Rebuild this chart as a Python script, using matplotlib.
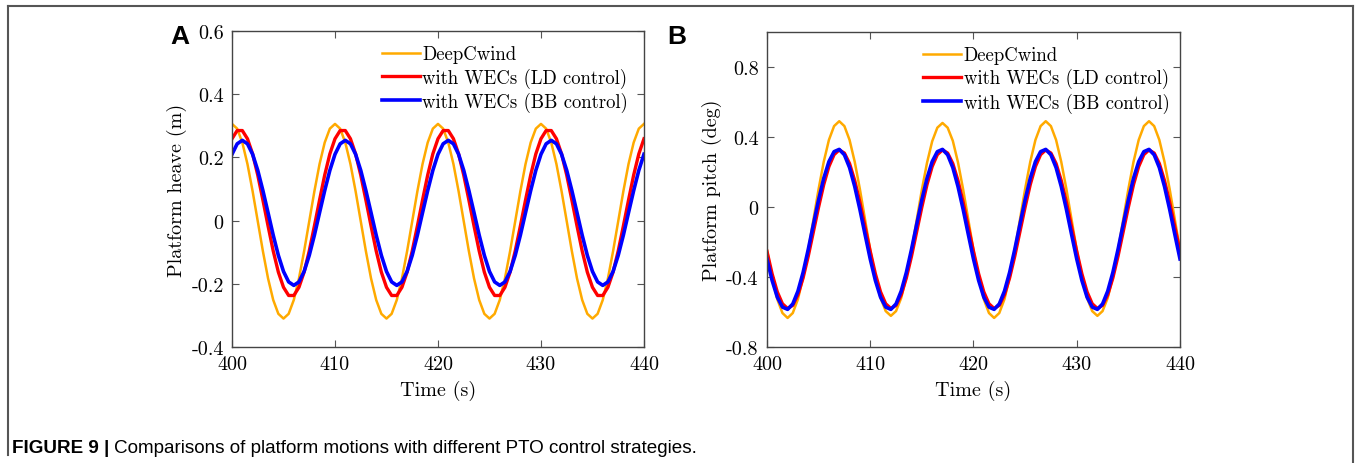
import numpy as np
import matplotlib
matplotlib.use("Agg")
import matplotlib.pyplot as plt
from matplotlib.lines import Line2D

# time grid (s), sampled every 0.5 s
time = np.arange(400, 440.5, 0.5)

# Platform heave (m)
heave_deepcwind = [
    0.306, 0.291, 0.247, 0.179, 0.093, -0.002, -0.097, -0.183, -0.251, -0.295,
    -0.310, -0.295, -0.251, -0.183, -0.097, -0.002, 0.093, 0.179, 0.247, 0.291,
    0.306, 0.291, 0.247, 0.179, 0.093, -0.002, -0.097, -0.183, -0.251, -0.295,
    -0.310, -0.295, -0.251, -0.183, -0.097, -0.002, 0.093, 0.179, 0.247, 0.291,
    0.306, 0.291, 0.247, 0.179, 0.093, -0.002, -0.097, -0.183, -0.251, -0.295,
    -0.310, -0.295, -0.251, -0.183, -0.097, -0.002, 0.093, 0.179, 0.247, 0.291,
    0.306, 0.291, 0.247, 0.179, 0.093, -0.002, -0.097, -0.183, -0.251, -0.295,
    -0.310, -0.295, -0.251, -0.183, -0.097, -0.002, 0.093, 0.179, 0.247, 0.291,
    0.306,
]
heave_ld = [
    0.259, 0.285, 0.285, 0.259, 0.211, 0.144, 0.065, -0.017, -0.096, -0.163,
    -0.211, -0.237, -0.237, -0.211, -0.163, -0.096, -0.017, 0.065, 0.144, 0.211,
    0.259, 0.285, 0.285, 0.259, 0.211, 0.144, 0.065, -0.017, -0.096, -0.163,
    -0.211, -0.237, -0.237, -0.211, -0.163, -0.096, -0.017, 0.065, 0.144, 0.211,
    0.259, 0.285, 0.285, 0.259, 0.211, 0.144, 0.065, -0.017, -0.096, -0.163,
    -0.211, -0.237, -0.237, -0.211, -0.163, -0.096, -0.017, 0.065, 0.144, 0.211,
    0.259, 0.285, 0.285, 0.259, 0.211, 0.144, 0.065, -0.017, -0.096, -0.163,
    -0.211, -0.237, -0.237, -0.211, -0.163, -0.096, -0.017, 0.065, 0.144, 0.211,
    0.259,
]
heave_bb = [
    0.210, 0.243, 0.254, 0.243, 0.210, 0.159, 0.095, 0.025, -0.046, -0.110,
    -0.161, -0.194, -0.205, -0.194, -0.161, -0.110, -0.046, 0.025, 0.095, 0.159,
    0.210, 0.243, 0.254, 0.243, 0.210, 0.159, 0.095, 0.025, -0.046, -0.110,
    -0.161, -0.194, -0.205, -0.194, -0.161, -0.110, -0.046, 0.025, 0.095, 0.159,
    0.210, 0.243, 0.254, 0.243, 0.210, 0.159, 0.095, 0.025, -0.046, -0.110,
    -0.161, -0.194, -0.205, -0.194, -0.161, -0.110, -0.046, 0.025, 0.095, 0.159,
    0.210, 0.243, 0.254, 0.243, 0.210, 0.159, 0.095, 0.025, -0.046, -0.110,
    -0.161, -0.194, -0.205, -0.194, -0.161, -0.110, -0.046, 0.025, 0.095, 0.159,
    0.210,
]

# Platform pitch (deg)
pitch_deepcwind = [
    -0.246, -0.402, -0.527, -0.606, -0.634, -0.606, -0.527, -0.402, -0.246, -0.072,
    0.102, 0.258, 0.383, 0.462, 0.490, 0.462, 0.383, 0.258, 0.102, -0.072,
    -0.246, -0.400, -0.520, -0.595, -0.622, -0.595, -0.520, -0.400, -0.246, -0.075,
    0.098, 0.252, 0.375, 0.453, 0.480, 0.453, 0.378, 0.255, 0.100, -0.072,
    -0.246, -0.402, -0.527, -0.606, -0.634, -0.606, -0.527, -0.402, -0.246, -0.072,
    0.102, 0.258, 0.383, 0.462, 0.490, 0.462, 0.383, 0.258, 0.102, -0.072,
    -0.246, -0.400, -0.520, -0.595, -0.622, -0.595, -0.520, -0.400, -0.246, -0.072,
    0.102, 0.258, 0.383, 0.462, 0.490, 0.462, 0.383, 0.258, 0.102, -0.072,
    -0.246,
]
pitch_ld = [
    -0.253, -0.382, -0.485, -0.553, -0.580, -0.562, -0.502, -0.405, -0.281, -0.141,
    -0.001, 0.128, 0.231, 0.299, 0.326, 0.308, 0.248, 0.151, 0.027, -0.113,
    -0.253, -0.382, -0.485, -0.553, -0.580, -0.562, -0.502, -0.405, -0.281, -0.141,
    -0.001, 0.128, 0.231, 0.299, 0.326, 0.308, 0.248, 0.151, 0.027, -0.113,
    -0.253, -0.382, -0.485, -0.553, -0.580, -0.562, -0.502, -0.405, -0.281, -0.141,
    -0.001, 0.128, 0.231, 0.299, 0.326, 0.308, 0.248, 0.151, 0.027, -0.113,
    -0.253, -0.382, -0.485, -0.553, -0.580, -0.562, -0.502, -0.405, -0.281, -0.141,
    -0.001, 0.128, 0.231, 0.299, 0.326, 0.308, 0.248, 0.151, 0.027, -0.113,
    -0.253,
]
pitch_bb = [
    -0.297, -0.420, -0.515, -0.572, -0.585, -0.554, -0.481, -0.374, -0.242, -0.099,
    0.041, 0.164, 0.259, 0.316, 0.329, 0.298, 0.225, 0.117, -0.014, -0.157,
    -0.297, -0.420, -0.515, -0.572, -0.585, -0.554, -0.481, -0.374, -0.242, -0.099,
    0.041, 0.164, 0.259, 0.316, 0.329, 0.298, 0.225, 0.117, -0.014, -0.157,
    -0.297, -0.420, -0.515, -0.572, -0.585, -0.554, -0.481, -0.374, -0.242, -0.099,
    0.041, 0.164, 0.259, 0.316, 0.329, 0.298, 0.225, 0.117, -0.014, -0.157,
    -0.297, -0.420, -0.515, -0.572, -0.585, -0.554, -0.481, -0.374, -0.242, -0.099,
    0.041, 0.164, 0.259, 0.316, 0.329, 0.298, 0.225, 0.117, -0.014, -0.157,
    -0.297,
]

series_labels = ["DeepCwind", "with WECs (LD control)", "with WECs (BB control)"]
x_ticks = [400, 410, 420, 430, 440]
heave_ticks = [-0.4, -0.2, 0, 0.2, 0.4, 0.6]
heave_tick_labels = ["-0.4", "-0.2", "0", "0.2", "0.4", "0.6"]
pitch_ticks = [-0.8, -0.4, 0, 0.4, 0.8]
pitch_tick_labels = ["-0.8", "-0.4", "0", "0.4", "0.8"]
caption_bold = "FIGURE 9 |"
caption_text = "Comparisons of platform motions with different PTO control strategies."

colors = ["#ffaa00", "#ff0000", "#0000ff"]
widths = [1.8, 2.4, 2.6]

plt.rcParams["font.family"] = "cmr10"
plt.rcParams["axes.unicode_minus"] = False
plt.rcParams["axes.formatter.use_mathtext"] = True

fig = plt.figure(figsize=(13.56, 4.64), dpi=100)


def draw_panel(ax, ys, yticks, ylabels, ylim, ylabel, legend_anchor):
    for y, c, lw, lab in zip(ys, colors, widths, series_labels):
        ax.plot(time, y, color=c, lw=lw, label=lab, solid_joinstyle="round")
    ax.set_xlim(400, 440)
    ax.set_ylim(*ylim)
    ax.set_xticks(x_ticks)
    ax.set_xticklabels([str(t) for t in x_ticks])
    ax.set_yticks(yticks)
    ax.set_yticklabels(ylabels)
    ax.tick_params(direction="in", top=True, right=True, length=5,
                   width=0.8, color="#555555", labelsize=14.5, pad=6)
    for s in ax.spines.values():
        s.set_color("#444444")
        s.set_linewidth(1.0)
    ax.set_xlabel("Time (s)", fontsize=14.5, labelpad=5)
    ax.set_ylabel(ylabel, fontsize=14.5, labelpad=3)
    ax.legend(loc="upper right", bbox_to_anchor=legend_anchor, frameon=False,
              fontsize=13.5, handlelength=2.0, handletextpad=0.15,
              labelspacing=0.22, borderpad=0, borderaxespad=0)


ax_a = fig.add_axes([0.1711, 0.25, 0.3038, 0.681])
draw_panel(ax_a, [heave_deepcwind, heave_ld, heave_bb], heave_ticks,
           heave_tick_labels, (-0.4, 0.6), "Platform heave (m)", (0.962, 0.955))

ax_b = fig.add_axes([0.5656, 0.25, 0.3046, 0.679])
draw_panel(ax_b, [pitch_deepcwind, pitch_ld, pitch_bb], pitch_ticks,
           pitch_tick_labels, (-0.8, 1.0), "Platform pitch (deg)", (0.975, 0.955))

# panel letters
fig.text(180 / 1356, 1 - 37 / 464, "A", fontsize=19, fontweight="bold",
         family="Liberation Sans", ha="center", va="center")
fig.text(677 / 1356, 1 - 37 / 464, "B", fontsize=19, fontweight="bold",
         family="Liberation Sans", ha="center", va="center")

# caption
t1 = fig.text(12 / 1356, 1 - 449 / 464, caption_bold, fontsize=13.6,
              fontweight="bold", family="Liberation Sans", va="center")
fig.canvas.draw()
bb = t1.get_window_extent()
fig.text((bb.x1 + 5) / 1356, 1 - 449 / 464, caption_text, fontsize=13.6,
         family="Liberation Sans", va="center")

# outer frame (top, left, right)
frame_kw = dict(color="#555555", lw=1.5, transform=fig.transFigure)
fig.add_artist(Line2D([8 / 1356, 1353 / 1356], [1 - 7 / 464, 1 - 7 / 464], **frame_kw))
fig.add_artist(Line2D([8 / 1356, 8 / 1356], [1 - 7 / 464, 1 - 456 / 464], **frame_kw))
fig.add_artist(Line2D([1353 / 1356, 1353 / 1356], [1 - 7 / 464, 0], **frame_kw))

fig.savefig("out.png", dpi=100)
